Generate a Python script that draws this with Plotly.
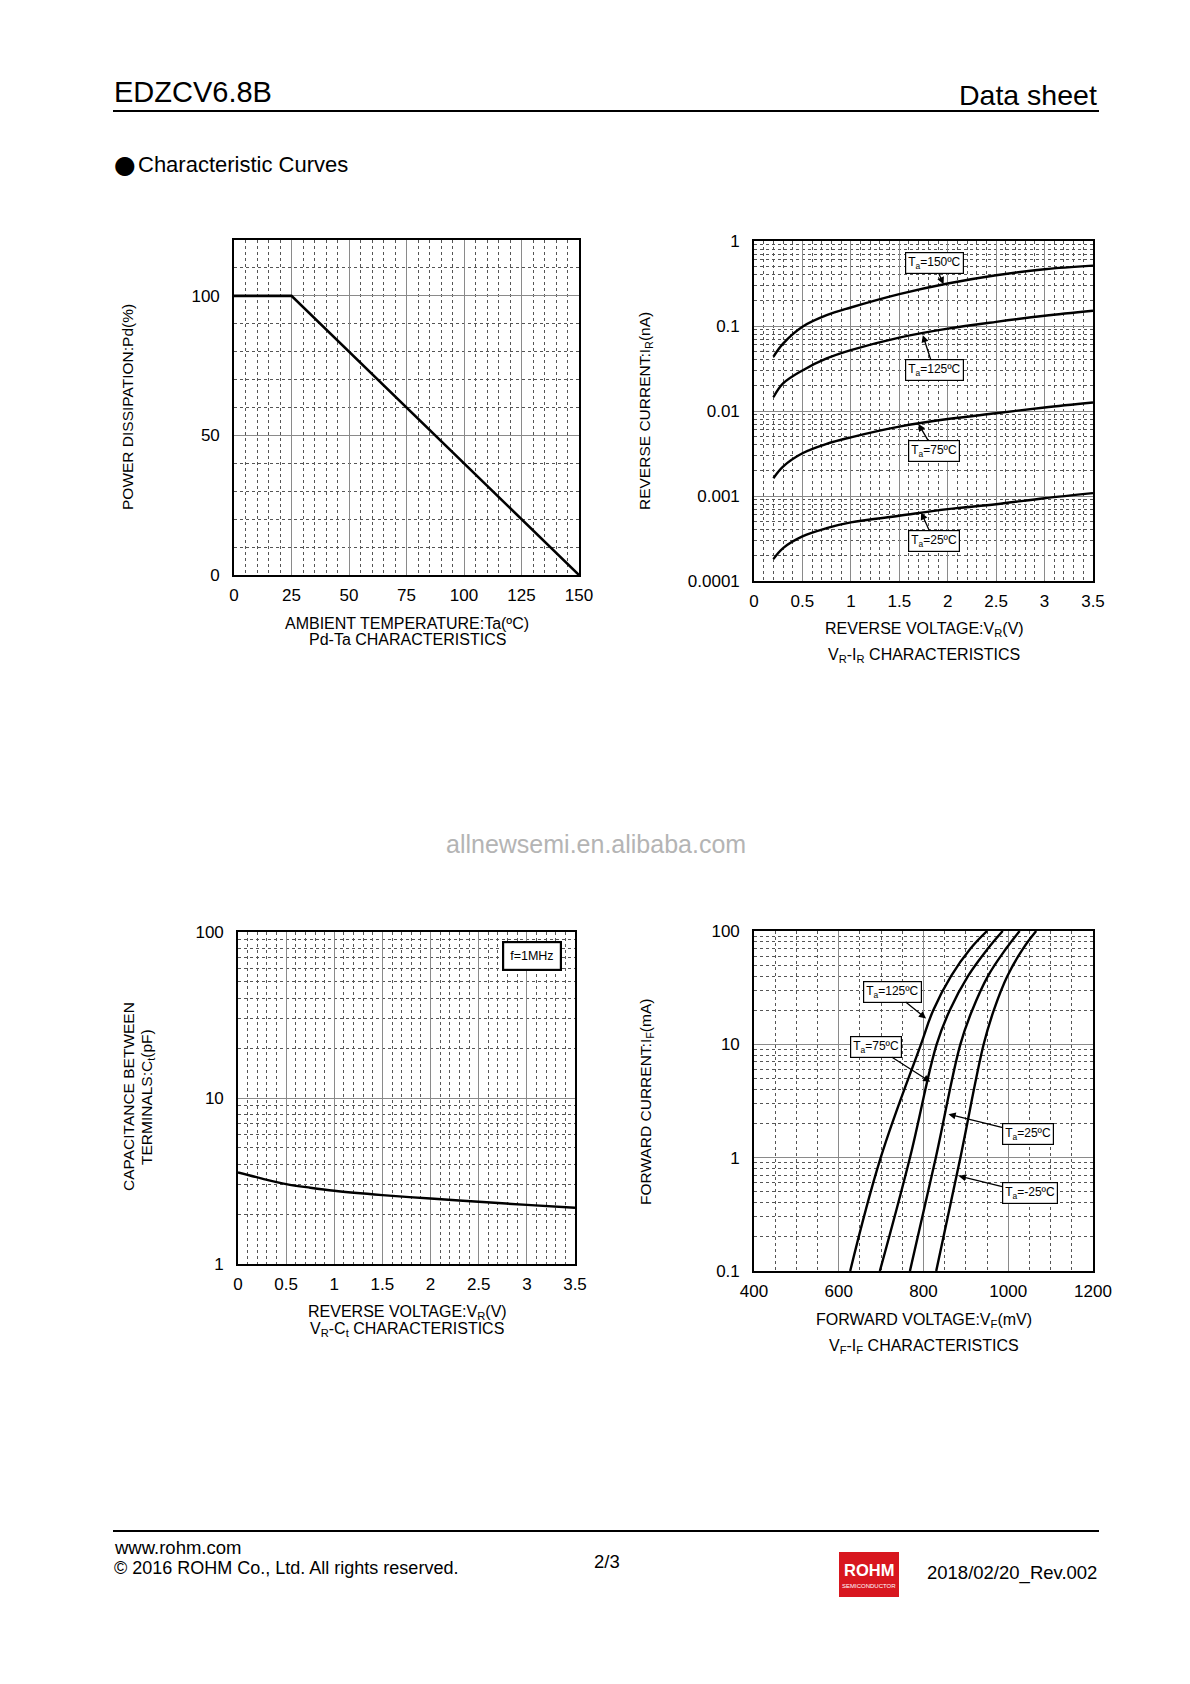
import numpy as np
import plotly.graph_objects as go

W, H = 1190, 1684
FONT = "Liberation Sans, Arial, sans-serif"

# ---------------- data ----------------
# Pd-Ta characteristics
pd_ta = [0, 25, 150]
pd_pct = [100, 100, 0]
pd_xticks = [0, 25, 50, 75, 100, 125, 150]
pd_yticks = [0, 50, 100]

# VR-IR characteristics (nA)
ir_v = [0.2, 0.3, 0.5, 0.75, 1.0, 1.5, 2.0, 2.5, 3.0, 3.5]
ir_150 = [0.0435, 0.062, 0.098, 0.134, 0.165, 0.237, 0.316, 0.395, 0.465, 0.513]
ir_125 = [0.0145, 0.0211, 0.030, 0.0415, 0.052, 0.073, 0.093, 0.112, 0.132, 0.151]
ir_75 = [0.00162, 0.00222, 0.00318, 0.0041, 0.0049, 0.00655, 0.00805, 0.0094, 0.011, 0.0126]
ir_25 = [0.000181, 0.000244, 0.000335, 0.000419, 0.000489, 0.000585, 0.0007, 0.0008, 0.00094, 0.00108]
v_ticks = [0, 0.5, 1, 1.5, 2, 2.5, 3, 3.5]
v_ticktext = ["0", "0.5", "1", "1.5", "2", "2.5", "3", "3.5"]
ir_ticks = [0.0001, 0.001, 0.01, 0.1, 1]
ir_ticktext = ["0.0001", "0.001", "0.01", "0.1", "1"]

# VR-Ct characteristics (pF)
ct_v = [0, 0.25, 0.5, 0.75, 1.0, 1.5, 2.0, 2.5, 3.0, 3.5]
ct_pf = [3.56, 3.27, 3.03, 2.88, 2.76, 2.60, 2.48, 2.37, 2.27, 2.18]
ct_ticks = [1, 10, 100]
ct_ticktext = ["1", "10", "100"]

# VF-IF characteristics
if_ma = [0.1, 1, 10, 20, 40, 70, 100]
vf_125 = [627, 699, 794, 823, 865, 911, 950]
vf_75 = [697, 768, 831, 862, 905, 952, 987]
vf_25 = [768, 829, 887, 915, 952, 995, 1027]
vf_m25 = [830, 887, 942, 966, 998, 1035, 1066]
vf_ticks = [400, 600, 800, 1000, 1200]
vf_ticktext = ["400", "600", "800", "1000", "1200"]
if_ticks = [0.1, 1, 10, 100]
if_ticktext = ["0.1", "1", "10", "100"]

# ---------------- helpers ----------------
def px_x(x):
    return x / W

def px_y(y):
    return 1 - y / H

def dom_x(a, b):
    return [a / W, b / W]

def dom_y(top, bottom):
    return [1 - bottom / H, 1 - top / H]

fig = go.Figure()
LINE = dict(color="black", width=2.6)

fig.add_trace(go.Scatter(x=pd_ta, y=pd_pct, mode="lines", line=LINE, xaxis="x", yaxis="y", showlegend=False))
for ys in (ir_150, ir_125, ir_75, ir_25):
    fig.add_trace(go.Scatter(x=ir_v, y=ys, mode="lines", line=dict(color="black", width=2.4, shape="spline", smoothing=1.0),
                             xaxis="x2", yaxis="y2", showlegend=False))
fig.add_trace(go.Scatter(x=ct_v, y=ct_pf, mode="lines", line=dict(color="black", width=2.4, shape="spline", smoothing=1.0),
                         xaxis="x3", yaxis="y3", showlegend=False))
for xs in (vf_125, vf_75, vf_25, vf_m25):
    fig.add_trace(go.Scatter(x=xs, y=if_ma, mode="lines", line=dict(color="black", width=2.4, shape="spline", smoothing=1.1),
                             xaxis="x4", yaxis="y4", showlegend=False))

TICKFONT = dict(family=FONT, size=17, color="black")
MAJ = dict(showgrid=True, gridcolor="#8a8a8a", gridwidth=1)
def minor(dt):
    return dict(dtick=dt, showgrid=True, gridcolor="#555555", griddash="dot", gridwidth=1, ticks="")

def xax(domain, anchor, rng, tickvals, ticktext, mdt, typ="linear"):
    d = dict(domain=domain, anchor=anchor, range=rng, type=typ, tickmode="array", tickvals=tickvals,
             ticktext=ticktext, tickfont=TICKFONT, showline=True, mirror=True, linecolor="black",
             linewidth=1.6, zeroline=False, ticks="", ticklabelstandoff=4, automargin=False,
             minor=minor(mdt), layer="below traces", fixedrange=True)
    d.update(MAJ)
    return d

def yax(domain, anchor, rng, tickvals, ticktext, mdt, typ="linear"):
    d = dict(domain=domain, anchor=anchor, range=rng, type=typ, tickmode="array", tickvals=tickvals,
             ticktext=ticktext, tickfont=TICKFONT, showline=True, mirror=True, linecolor="black",
             linewidth=1.6, zeroline=False, ticks="", ticklabelstandoff=9, automargin=False,
             minor=minor(mdt), layer="below traces", fixedrange=True)
    d.update(MAJ)
    return d

fig.update_layout(
    xaxis=xax(dom_x(234, 579), "y", [0, 150], pd_xticks, [str(v) for v in pd_xticks], 5),
    yaxis=yax(dom_y(240, 575), "x", [0, 120], pd_yticks, [str(v) for v in pd_yticks], 10),
    xaxis2=xax(dom_x(754, 1093), "y2", [0, 3.5], v_ticks, v_ticktext, 0.1),
    yaxis2=yax(dom_y(241, 581), "x2", [-4, 0], ir_ticks, ir_ticktext, "D1", "log"),
    xaxis3=xax(dom_x(238, 575), "y3", [0, 3.5], v_ticks, v_ticktext, 0.1),
    yaxis3=yax(dom_y(932, 1264), "x3", [0, 2], ct_ticks, ct_ticktext, "D1", "log"),
    xaxis4=xax(dom_x(754, 1093), "y4", [400, 1200], vf_ticks, vf_ticktext, 50),
    yaxis4=yax(dom_y(931, 1271), "x4", [-1, 2], if_ticks, if_ticktext, "D1", "log"),
)

ann = []
def text(x, y, s, size, xanchor="center", color="black", angle=0, yanchor="middle", family=FONT):
    ann.append(dict(x=px_x(x), y=px_y(y), xref="paper", yref="paper", text=s, showarrow=False,
                    xanchor=xanchor, yanchor=yanchor, textangle=angle,
                    font=dict(family=family, size=size, color=color)))

TS = 16
TSY = 15.5
# chart 1 titles
text(407, 623, "AMBIENT TEMPERATURE:Ta(ºC)", TS)
text(407, 639, "Pd-Ta CHARACTERISTICS", TS)
text(128, 407, "POWER DISSIPATION:Pd(%)", TSY, angle=-90)
# chart 2 titles
text(924, 629, "REVERSE VOLTAGE:V<sub>R</sub>(V)", TS)
text(924, 655, "V<sub>R</sub>-I<sub>R</sub> CHARACTERISTICS", TS)
text(646, 411, "REVERSE CURRENT:I<sub>R</sub>(nA)", TSY, angle=-90)
# chart 3 titles
text(407, 1312, "REVERSE VOLTAGE:V<sub>R</sub>(V)", TS)
text(407, 1329, "V<sub>R</sub>-C<sub>t</sub> CHARACTERISTICS", TS)
text(128, 1097, "CAPACITANCE BETWEEN", TSY, angle=-90)
text(147, 1097, "TERMINALS:C<sub>t</sub>(pF)", TSY, angle=-90)
# chart 4 titles
text(924, 1320, "FORWARD VOLTAGE:V<sub>F</sub>(mV)", TS)
text(924, 1346, "V<sub>F</sub>-I<sub>F</sub> CHARACTERISTICS", TS)
text(646, 1102, "FORWARD CURRENT:I<sub>F</sub>(mA)", TSY, angle=-90)

# page header / footer
text(112, 92, "EDZCV6.8B", 29, xanchor="left")
text(1099, 95, "Data sheet", 28.5, xanchor="right")
text(112, 165, "●", 25, xanchor="left", family="DejaVu Sans")
text(136, 165, "Characteristic Curves", 22, xanchor="left")
text(596, 844, "allnewsemi.en.alibaba.com", 25, color="#b4b4b4")
text(112, 1547, "www.rohm.com", 18.5, xanchor="left")
text(112, 1568, "© 2016 ROHM Co., Ltd. All rights reserved.", 18, xanchor="left")
text(607, 1561, "2/3", 18.5)
text(1099, 1573, "2018/02/20_Rev.002", 18.5, xanchor="right")
text(869, 1570, "<b>ROHM</b>", 16.5, color="white")
text(869, 1586, "SEMICONDUCTOR", 6, color="white")

# curve labels
def label(xa, ya, box_x, box_y, tip_x, tip_y, s, size, logy=True):
    by = np.log10(box_y) if logy else box_y
    ty = np.log10(tip_y) if logy else tip_y
    ann.append(dict(x=tip_x, y=ty, ax=box_x, ay=by, xref=xa, yref=ya, axref=xa, ayref=ya,
                    text=s, showarrow=True, arrowhead=2, arrowsize=1.1, arrowwidth=1.3, arrowcolor="black",
                    bgcolor="white", bordercolor="black", borderwidth=1.2, borderpad=2,
                    font=dict(family=FONT, size=size, color="black")))

label("x2", "y2", 1.86, 0.55, 1.957, 0.31, "T<sub>a</sub>=150ºC", 12)
label("x2", "y2", 1.86, 0.0303, 1.743, 0.078, "T<sub>a</sub>=125ºC", 12)
label("x2", "y2", 1.86, 0.0034, 1.698, 0.00703, "T<sub>a</sub>=75ºC", 12)
label("x2", "y2", 1.86, 0.000292, 1.726, 0.00064, "T<sub>a</sub>=25ºC", 12)

label("x4", "y4", 727.6, 29.2, 806, 16.9, "T<sub>a</sub>=125ºC", 12)
label("x4", "y4", 687.4, 9.5, 816, 4.67, "T<sub>a</sub>=75ºC", 12)
label("x4", "y4", 1047.2, 1.62, 859, 2.42, "T<sub>a</sub>=25ºC", 12)
label("x4", "y4", 1050.4, 0.483, 883, 0.69, "T<sub>a</sub>=-25ºC", 12)

ann.append(dict(x=3.05, y=np.log10(71.5), xref="x3", yref="y3", text="f=1MHz", showarrow=False,
                bgcolor="white", bordercolor="black", borderwidth=2.2, borderpad=6,
                font=dict(family=FONT, size=12.5, color="black")))

shapes = [
    dict(type="line", xref="paper", yref="paper", x0=px_x(113), x1=px_x(1099), y0=px_y(111), y1=px_y(111),
         line=dict(color="black", width=2)),
    dict(type="line", xref="paper", yref="paper", x0=px_x(113), x1=px_x(1099), y0=px_y(1531), y1=px_y(1531),
         line=dict(color="black", width=2)),
    dict(type="rect", xref="paper", yref="paper", x0=px_x(839), x1=px_x(899), y0=px_y(1597), y1=px_y(1552),
         fillcolor="#d8171f", line=dict(width=0)),
]

fig.update_layout(
    width=W, height=H, margin=dict(l=0, r=0, t=0, b=0),
    paper_bgcolor="white", plot_bgcolor="white",
    annotations=ann, shapes=shapes, showlegend=False,
    font=dict(family=FONT, color="black"),
)

fig.write_html("out.html", config={"displayModeBar": False},
               post_script="document.body.style.margin='0';document.body.style.padding='0';")
